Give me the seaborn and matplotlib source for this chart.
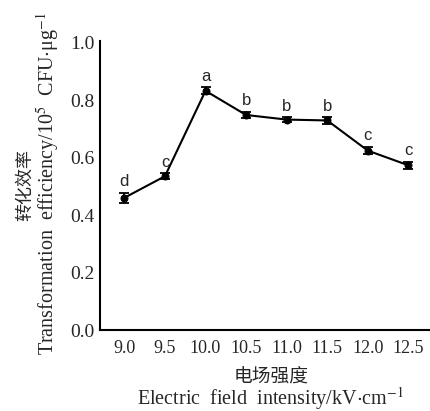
import matplotlib
matplotlib.use("Agg")
import matplotlib.pyplot as plt
import pandas as pd
import seaborn as sns

sns.set_theme(style="white")
plt.rcParams["font.family"] = ["Liberation Serif", "Noto Sans CJK SC"]
plt.rcParams["mathtext.fontset"] = "stix"

field = [9.0, 9.5, 10.0, 10.5, 11.0, 11.5, 12.0, 12.5]
efficiency = [0.460, 0.535, 0.832, 0.748, 0.732, 0.729, 0.624, 0.573]
err = [0.018, 0.010, 0.012, 0.011, 0.009, 0.012, 0.013, 0.012]
letters = ["d", "c", "a", "b", "b", "b", "c", "c"]

df = pd.DataFrame({"field": field, "eff": efficiency, "err": err, "sig": letters})

fig = plt.figure(figsize=(4.30, 4.11), dpi=100)
ax = fig.add_axes([0.2326, 0.197, 0.77, 0.703])

sns.lineplot(data=df, x="field", y="eff", color="black", linewidth=1.5,
             marker="o", markersize=5, markeredgecolor="black", ax=ax)
ax.errorbar(df["field"], df["eff"], yerr=df["err"], fmt="none", ecolor="black",
            elinewidth=1.3, capsize=3.5, capthick=1.3)

for x, y, e, s in zip(df["field"], df["eff"], df["err"], df["sig"]):
    ax.annotate(s, (x, y + e), xytext=(0, 2.5), textcoords="offset points",
                ha="center", va="bottom", fontsize=12, family="Liberation Sans")

ax.set_xlim(8.7, 12.78)
ax.set_ylim(0, 1.005)
ax.set_xticks(field)
ax.set_xticklabels([f"{v:.1f}" for v in field], fontsize=13)
ax.set_yticks([0.0, 0.2, 0.4, 0.6, 0.8, 1.0])
ax.set_yticklabels(["0.0", "0.2", "0.4", "0.6", "0.8", "1.0"], fontsize=14)
ax.tick_params(direction="in", length=6, width=1.3, color="black", pad=4)
ax.tick_params(axis="x", pad=7)

for side in ["top", "right"]:
    ax.spines[side].set_visible(False)
for side in ["left", "bottom"]:
    ax.spines[side].set_color("black")
    ax.spines[side].set_linewidth(1.5)

ax.set_xlabel("")
ax.set_ylabel("")
fig.text(25 / 430, 0.55, "转化效率", rotation=90, ha="center", va="center",
         fontsize=13, family=["Noto Sans CJK SC"])
fig.text(48 / 430, 1 - 183 / 411,
         "Transformation  efficiency/10$^5$  CFU$\\cdot$μg$^{-1}$",
         rotation=90, ha="center", va="center", fontsize=14.5)
fig.text(271 / 430, 1 - 377 / 411, "电场强度", ha="center", va="center",
         fontsize=13.5, family=["Noto Sans CJK SC"])
fig.text(270 / 430, 1 - 399 / 411,
         "Electric  field  intensity/kV$\\cdot$cm$^{-1}$",
         ha="center", va="center", fontsize=14.5)

fig.savefig("out.png", dpi=100)
